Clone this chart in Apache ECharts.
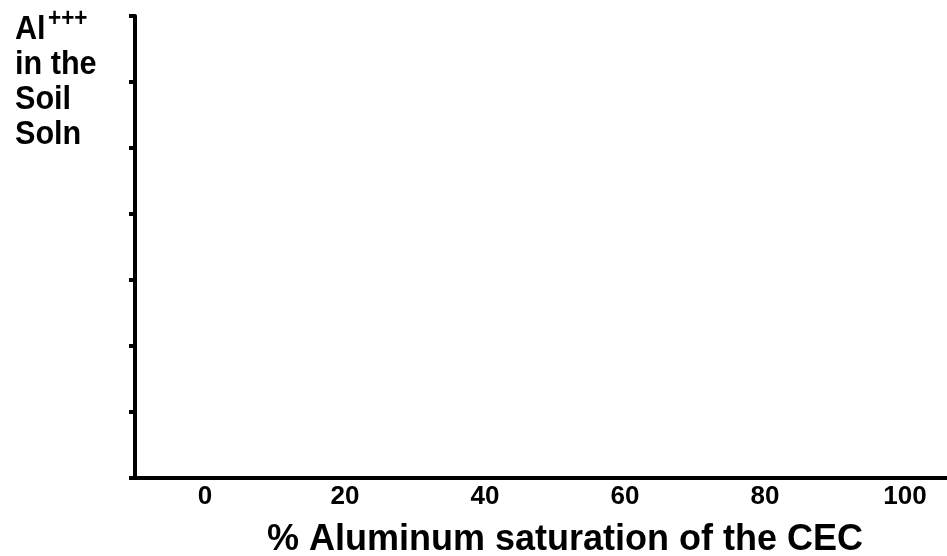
<!DOCTYPE html>
<html>
<head>
<meta charset="utf-8">
<script src="https://cdn.jsdelivr.net/npm/echarts@6/dist/echarts.min.js"></script>
<style>
html,body{margin:0;padding:0;background:#fff;}
#chart{width:947px;height:556px;}
</style>
</head>
<body>
<div id="chart"></div>
<script>
// Data (the reference chart is an empty axis frame)
const xTickLabels = [0, 20, 40, 60, 80, 100];
const xRange = [-10, 106];
const yRange = [0, 7];
const seriesValues = [];
const xTitle = '% Aluminum saturation of the CEC';
const yTitleLines = ['Al', 'in the', 'Soil', 'Soln'];
const ySuperscript = '+++';

const FONT = '"Liberation Sans", Arial, Helvetica, sans-serif';

const chart = echarts.init(document.getElementById('chart'));
chart.setOption({
  animation: false,
  backgroundColor: '#fff',
  grid: { left: 135, right: 0, top: 16, bottom: 78, containLabel: false },
  xAxis: {
    type: 'value',
    min: xRange[0],
    max: xRange[1],
    splitLine: { show: false },
    axisLine: { show: true, onZero: false, lineStyle: { color: '#000', width: 4 } },
    axisTick: { show: false },
    axisLabel: {
      customValues: xTickLabels,
      color: '#000',
      fontFamily: FONT,
      fontWeight: 'bold',
      fontSize: 26,
      margin: 6
    }
  },
  yAxis: {
    type: 'value',
    min: yRange[0],
    max: yRange[1],
    interval: 1,
    splitLine: { show: false },
    axisLine: { show: true, onZero: false, lineStyle: { color: '#000', width: 4 } },
    axisTick: { show: true, length: 6, inside: false, lineStyle: { color: '#000', width: 4 } },
    axisLabel: { show: false }
  },
  graphic: [
    {
      type: 'text',
      x: 15,
      y: 12,
      scaleX: 0.9,
      style: {
        text: yTitleLines.join('\n'),
        fontFamily: FONT,
        fontWeight: 'bold',
        fontSize: 34,
        lineHeight: 35,
        fill: '#000'
      }
    },
    {
      type: 'text',
      x: 48,
      y: 7,
      scaleX: 0.9,
      style: {
        text: ySuperscript,
        fontFamily: FONT,
        fontWeight: 'bold',
        fontSize: 25,
        fill: '#000',
        verticalAlign: 'top'
      }
    },
    {
      type: 'text',
      x: 565,
      y: 540,
      style: {
        text: xTitle,
        fontFamily: FONT,
        fontWeight: 'bold',
        fontSize: 36,
        fill: '#000',
        align: 'center',
        verticalAlign: 'middle'
      }
    }
  ],
  series: [{ type: 'line', data: seriesValues }]
});
</script>
</body>
</html>
